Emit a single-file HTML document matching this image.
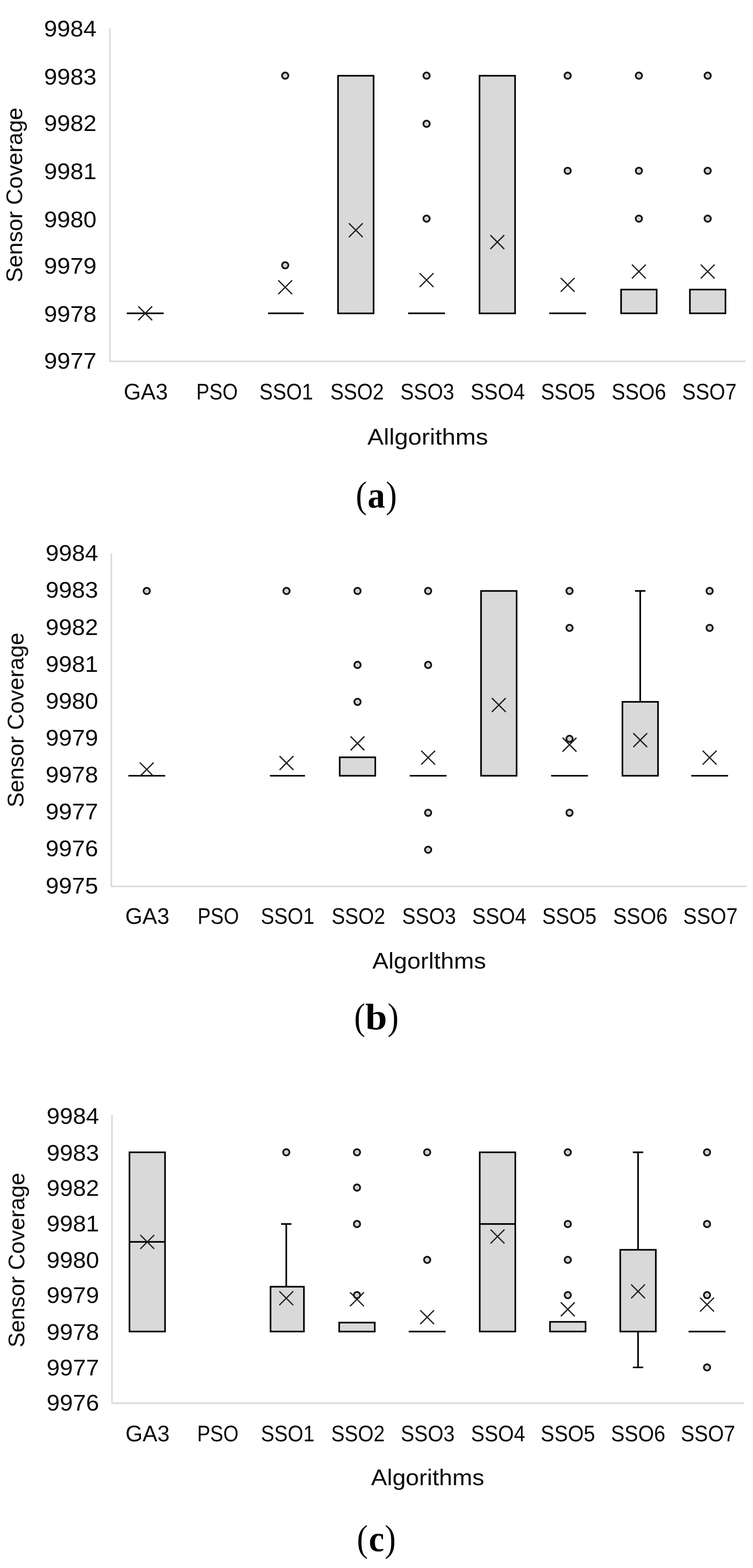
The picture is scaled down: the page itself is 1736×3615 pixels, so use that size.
<!DOCTYPE html>
<html lang="en">
<head>
<meta charset="utf-8">
<title>Sensor Coverage box plots</title>
<style>
html,body{margin:0;padding:0;background:#fff;}
body{width:1736px;height:3615px;overflow:hidden;}
svg{display:block;}
.tk{font-family:"Liberation Sans",sans-serif;font-size:52.3px;fill:#0a0a0a;}
.cap{font-family:"Liberation Serif","DejaVu Serif",serif;font-size:87px;fill:#000;}
.capl{font-weight:bold;font-size:85px;}
</style>
</head>
<body>
<svg width="1736" height="3615" viewBox="0 0 1736 3615">
<rect width="1736" height="3615" fill="#fff"/>
<g class="chart" id="chart-a"><g class="plot">
<path d="M253.2 65.5V833H1718.5" fill="none" stroke="#d9d9d9" stroke-width="3.4"/>
<text class="tk" x="101.5" y="83.5" textLength="121" lengthAdjust="spacingAndGlyphs">9984</text>
<text class="tk" x="101.5" y="194.5" textLength="121" lengthAdjust="spacingAndGlyphs">9983</text>
<text class="tk" x="101.5" y="301.5" textLength="121" lengthAdjust="spacingAndGlyphs">9982</text>
<text class="tk" x="101.5" y="412.5" textLength="121" lengthAdjust="spacingAndGlyphs">9981</text>
<text class="tk" x="101.5" y="523.5" textLength="121" lengthAdjust="spacingAndGlyphs">9980</text>
<text class="tk" x="101.5" y="631.0" textLength="121" lengthAdjust="spacingAndGlyphs">9979</text>
<text class="tk" x="101.5" y="742.0" textLength="121" lengthAdjust="spacingAndGlyphs">9978</text>
<text class="tk" x="101.5" y="849.5" textLength="121" lengthAdjust="spacingAndGlyphs">9977</text>
<text class="tk" x="285.2" y="920.5" textLength="101.8" lengthAdjust="spacingAndGlyphs">GA3</text>
<text class="tk" x="452.5" y="920.5" textLength="95.6" lengthAdjust="spacingAndGlyphs">PSO</text>
<text class="tk" x="598.1" y="920.5" textLength="123.7" lengthAdjust="spacingAndGlyphs">SSO1</text>
<text class="tk" x="761.4" y="920.5" textLength="123.7" lengthAdjust="spacingAndGlyphs">SSO2</text>
<text class="tk" x="923.1" y="920.5" textLength="124.1" lengthAdjust="spacingAndGlyphs">SSO3</text>
<text class="tk" x="1085.1" y="920.5" textLength="125.1" lengthAdjust="spacingAndGlyphs">SSO4</text>
<text class="tk" x="1247.0" y="920.5" textLength="125.2" lengthAdjust="spacingAndGlyphs">SSO5</text>
<text class="tk" x="1410.0" y="920.5" textLength="125.6" lengthAdjust="spacingAndGlyphs">SSO6</text>
<text class="tk" x="1572.5" y="920.5" textLength="125.6" lengthAdjust="spacingAndGlyphs">SSO7</text>
<text class="tk" x="847" y="1024.5" textLength="278" lengthAdjust="spacingAndGlyphs">Allgorithms</text>
<text class="tk" transform="translate(50.6 651) rotate(-90)" textLength="403" lengthAdjust="spacingAndGlyphs">Sensor Coverage</text>
<path d="M292.3 722.4H377.3" stroke="#000" stroke-width="3.7" fill="none"/>
<path d="M318.8 706.4L350.8 738.4M318.8 738.4L350.8 706.4" stroke="#1f1f1f" stroke-width="2.9" fill="none"/>
<path d="M618.1 722.4H700.1" stroke="#000" stroke-width="3.7" fill="none"/>
<circle cx="657.5" cy="611.6" r="7.3" fill="#d0d0d0" stroke="#141414" stroke-width="4"/>
<circle cx="657.5" cy="174.4" r="7.3" fill="#d0d0d0" stroke="#141414" stroke-width="4"/>
<path d="M641.5 646.2L673.5 678.2M641.5 678.2L673.5 646.2" stroke="#1f1f1f" stroke-width="2.9" fill="none"/>
<rect x="779.3" y="174.6" width="82" height="547.9" fill="#d9d9d9" stroke="#000" stroke-width="3.7"/>
<path d="M804.3 514.7L836.3 546.7M804.3 546.7L836.3 514.7" stroke="#1f1f1f" stroke-width="2.9" fill="none"/>
<path d="M940.9 722.4H1025.9" stroke="#000" stroke-width="3.7" fill="none"/>
<circle cx="983.4" cy="504.0" r="7.3" fill="#d0d0d0" stroke="#141414" stroke-width="4"/>
<circle cx="983.4" cy="285.4" r="7.3" fill="#d0d0d0" stroke="#141414" stroke-width="4"/>
<circle cx="983.4" cy="174.4" r="7.3" fill="#d0d0d0" stroke="#141414" stroke-width="4"/>
<path d="M967.4 629.7L999.4 661.7M967.4 661.7L999.4 629.7" stroke="#1f1f1f" stroke-width="2.9" fill="none"/>
<rect x="1105.5" y="174.6" width="82" height="547.9" fill="#d9d9d9" stroke="#000" stroke-width="3.7"/>
<path d="M1130.5 542.1L1162.5 574.1M1130.5 574.1L1162.5 542.1" stroke="#1f1f1f" stroke-width="2.9" fill="none"/>
<path d="M1266.2 722.4H1351.2" stroke="#000" stroke-width="3.7" fill="none"/>
<circle cx="1308.7" cy="393.7" r="7.3" fill="#d0d0d0" stroke="#141414" stroke-width="4"/>
<circle cx="1308.7" cy="174.4" r="7.3" fill="#d0d0d0" stroke="#141414" stroke-width="4"/>
<path d="M1292.7 640.7L1324.7 672.7M1292.7 672.7L1324.7 640.7" stroke="#1f1f1f" stroke-width="2.9" fill="none"/>
<rect x="1431.9" y="667.6" width="82" height="54.8" fill="#d9d9d9" stroke="#000" stroke-width="3.7"/>
<circle cx="1472.9" cy="504.0" r="7.3" fill="#d0d0d0" stroke="#141414" stroke-width="4"/>
<circle cx="1472.9" cy="393.7" r="7.3" fill="#d0d0d0" stroke="#141414" stroke-width="4"/>
<circle cx="1472.9" cy="174.4" r="7.3" fill="#d0d0d0" stroke="#141414" stroke-width="4"/>
<path d="M1456.9 610.0L1488.9 642.0M1456.9 642.0L1488.9 610.0" stroke="#1f1f1f" stroke-width="2.9" fill="none"/>
<rect x="1590.5" y="667.6" width="82" height="54.8" fill="#d9d9d9" stroke="#000" stroke-width="3.7"/>
<circle cx="1631.5" cy="504.0" r="7.3" fill="#d0d0d0" stroke="#141414" stroke-width="4"/>
<circle cx="1631.5" cy="393.7" r="7.3" fill="#d0d0d0" stroke="#141414" stroke-width="4"/>
<circle cx="1631.5" cy="174.4" r="7.3" fill="#d0d0d0" stroke="#141414" stroke-width="4"/>
<path d="M1615.5 610.0L1647.5 642.0M1615.5 642.0L1647.5 610.0" stroke="#1f1f1f" stroke-width="2.9" fill="none"/>
</g>
<text class="cap" y="1170"><tspan x="820.3" textLength="25.5" lengthAdjust="spacingAndGlyphs">(</tspan><tspan class="capl" x="847.5999999999999" textLength="40.3" lengthAdjust="spacingAndGlyphs">a</tspan><tspan x="889.5999999999999" textLength="25.5" lengthAdjust="spacingAndGlyphs">)</tspan></text>
</g>
<g class="chart" id="chart-b"><g class="plot">
<path d="M256.8 1276V2043.5H1721" fill="none" stroke="#d9d9d9" stroke-width="3.4"/>
<text class="tk" x="105.3" y="1293.2" textLength="121" lengthAdjust="spacingAndGlyphs">9984</text>
<text class="tk" x="105.3" y="1378.3" textLength="121" lengthAdjust="spacingAndGlyphs">9983</text>
<text class="tk" x="105.3" y="1463.6" textLength="121" lengthAdjust="spacingAndGlyphs">9982</text>
<text class="tk" x="105.3" y="1548.5" textLength="121" lengthAdjust="spacingAndGlyphs">9981</text>
<text class="tk" x="105.3" y="1633.8" textLength="121" lengthAdjust="spacingAndGlyphs">9980</text>
<text class="tk" x="105.3" y="1718.8" textLength="121" lengthAdjust="spacingAndGlyphs">9979</text>
<text class="tk" x="105.3" y="1803.9" textLength="121" lengthAdjust="spacingAndGlyphs">9978</text>
<text class="tk" x="105.3" y="1889.3" textLength="121" lengthAdjust="spacingAndGlyphs">9977</text>
<text class="tk" x="105.3" y="1974.4" textLength="121" lengthAdjust="spacingAndGlyphs">9976</text>
<text class="tk" x="105.3" y="2059.5" textLength="121" lengthAdjust="spacingAndGlyphs">9975</text>
<text class="tk" x="288.7" y="2130" textLength="101.8" lengthAdjust="spacingAndGlyphs">GA3</text>
<text class="tk" x="455.4" y="2130" textLength="95.6" lengthAdjust="spacingAndGlyphs">PSO</text>
<text class="tk" x="601.2" y="2130" textLength="123.7" lengthAdjust="spacingAndGlyphs">SSO1</text>
<text class="tk" x="764.4" y="2130" textLength="123.7" lengthAdjust="spacingAndGlyphs">SSO2</text>
<text class="tk" x="927.1" y="2130" textLength="124.1" lengthAdjust="spacingAndGlyphs">SSO3</text>
<text class="tk" x="1088.4" y="2130" textLength="125.1" lengthAdjust="spacingAndGlyphs">SSO4</text>
<text class="tk" x="1249.9" y="2130" textLength="125.2" lengthAdjust="spacingAndGlyphs">SSO5</text>
<text class="tk" x="1413.4" y="2130" textLength="125.6" lengthAdjust="spacingAndGlyphs">SSO6</text>
<text class="tk" x="1575.0" y="2130" textLength="125.6" lengthAdjust="spacingAndGlyphs">SSO7</text>
<text class="tk" x="858.5" y="2233" textLength="262.0" lengthAdjust="spacingAndGlyphs">Algorlthms</text>
<text class="tk" transform="translate(54.2 1861.4) rotate(-90)" textLength="403" lengthAdjust="spacingAndGlyphs">Sensor Coverage</text>
<path d="M295.8 1788.5H380.8" stroke="#000" stroke-width="3.7" fill="none"/>
<circle cx="338.3" cy="1362.4" r="7.3" fill="#d0d0d0" stroke="#141414" stroke-width="4"/>
<path d="M322.3 1758.0L354.3 1790.0M322.3 1790.0L354.3 1758.0" stroke="#1f1f1f" stroke-width="2.9" fill="none"/>
<path d="M622.2 1788.5H703.2" stroke="#000" stroke-width="3.7" fill="none"/>
<circle cx="660.5" cy="1362.4" r="7.3" fill="#d0d0d0" stroke="#141414" stroke-width="4"/>
<path d="M644.5 1743.1L676.5 1775.1M644.5 1775.1L676.5 1743.1" stroke="#1f1f1f" stroke-width="2.9" fill="none"/>
<rect x="783.2" y="1745.9" width="82" height="42.6" fill="#d9d9d9" stroke="#000" stroke-width="3.7"/>
<circle cx="824.2" cy="1618.1" r="7.3" fill="#d0d0d0" stroke="#141414" stroke-width="4"/>
<circle cx="824.2" cy="1532.9" r="7.3" fill="#d0d0d0" stroke="#141414" stroke-width="4"/>
<circle cx="824.2" cy="1362.4" r="7.3" fill="#d0d0d0" stroke="#141414" stroke-width="4"/>
<path d="M808.2 1697.9L840.2 1729.9M808.2 1729.9L840.2 1697.9" stroke="#1f1f1f" stroke-width="2.9" fill="none"/>
<path d="M944.5 1788.5H1029.5" stroke="#000" stroke-width="3.7" fill="none"/>
<circle cx="987" cy="1959.0" r="7.3" fill="#d0d0d0" stroke="#141414" stroke-width="4"/>
<circle cx="987" cy="1873.8" r="7.3" fill="#d0d0d0" stroke="#141414" stroke-width="4"/>
<circle cx="987" cy="1532.9" r="7.3" fill="#d0d0d0" stroke="#141414" stroke-width="4"/>
<circle cx="987" cy="1362.4" r="7.3" fill="#d0d0d0" stroke="#141414" stroke-width="4"/>
<path d="M971 1730.8L1003 1762.8M971 1762.8L1003 1730.8" stroke="#1f1f1f" stroke-width="2.9" fill="none"/>
<rect x="1109.0" y="1362.4" width="82" height="426.1" fill="#d9d9d9" stroke="#000" stroke-width="3.7"/>
<path d="M1134 1609.4L1166 1641.4M1134 1641.4L1166 1609.4" stroke="#1f1f1f" stroke-width="2.9" fill="none"/>
<path d="M1270.5 1788.5H1355.5" stroke="#000" stroke-width="3.7" fill="none"/>
<circle cx="1313" cy="1873.8" r="7.3" fill="#d0d0d0" stroke="#141414" stroke-width="4"/>
<circle cx="1313" cy="1703.3" r="7.3" fill="#d0d0d0" stroke="#141414" stroke-width="4"/>
<circle cx="1313" cy="1447.6" r="7.3" fill="#d0d0d0" stroke="#141414" stroke-width="4"/>
<circle cx="1313" cy="1362.4" r="7.3" fill="#d0d0d0" stroke="#141414" stroke-width="4"/>
<path d="M1297 1700.9L1329 1732.9M1297 1732.9L1329 1700.9" stroke="#1f1f1f" stroke-width="2.9" fill="none"/>
<path d="M1476 1618.1V1362.4M1464 1362.4H1488" stroke="#000" stroke-width="3.7" fill="none"/>
<rect x="1435.0" y="1618.1" width="82" height="170.4" fill="#d9d9d9" stroke="#000" stroke-width="3.7"/>
<path d="M1460 1690.4L1492 1722.4M1460 1722.4L1492 1690.4" stroke="#1f1f1f" stroke-width="2.9" fill="none"/>
<path d="M1593.5 1788.5H1678.5" stroke="#000" stroke-width="3.7" fill="none"/>
<circle cx="1636" cy="1447.6" r="7.3" fill="#d0d0d0" stroke="#141414" stroke-width="4"/>
<circle cx="1636" cy="1362.4" r="7.3" fill="#d0d0d0" stroke="#141414" stroke-width="4"/>
<path d="M1620 1730.8L1652 1762.8M1620 1762.8L1652 1730.8" stroke="#1f1f1f" stroke-width="2.9" fill="none"/>
</g>
<text class="cap" y="2373"><tspan x="816.4" textLength="25.5" lengthAdjust="spacingAndGlyphs">(</tspan><tspan class="capl" x="842.3" textLength="50.2" lengthAdjust="spacingAndGlyphs">b</tspan><tspan x="893.4" textLength="25.5" lengthAdjust="spacingAndGlyphs">)</tspan></text>
</g>
<g class="chart" id="chart-c"><g class="plot">
<path d="M258.1 2570V3235H1716" fill="none" stroke="#d9d9d9" stroke-width="3.4"/>
<text class="tk" x="107.4" y="2591.3" textLength="121" lengthAdjust="spacingAndGlyphs">9984</text>
<text class="tk" x="107.4" y="2676.2" textLength="121" lengthAdjust="spacingAndGlyphs">9983</text>
<text class="tk" x="107.4" y="2757.4" textLength="121" lengthAdjust="spacingAndGlyphs">9982</text>
<text class="tk" x="107.4" y="2838.6" textLength="121" lengthAdjust="spacingAndGlyphs">9981</text>
<text class="tk" x="107.4" y="2923.2" textLength="121" lengthAdjust="spacingAndGlyphs">9980</text>
<text class="tk" x="107.4" y="3004.2" textLength="121" lengthAdjust="spacingAndGlyphs">9979</text>
<text class="tk" x="107.4" y="3089.3" textLength="121" lengthAdjust="spacingAndGlyphs">9978</text>
<text class="tk" x="107.4" y="3170.5" textLength="121" lengthAdjust="spacingAndGlyphs">9977</text>
<text class="tk" x="107.4" y="3251.8" textLength="121" lengthAdjust="spacingAndGlyphs">9976</text>
<text class="tk" x="289.3" y="3322.5" textLength="101.8" lengthAdjust="spacingAndGlyphs">GA3</text>
<text class="tk" x="454.4" y="3322.5" textLength="95.6" lengthAdjust="spacingAndGlyphs">PSO</text>
<text class="tk" x="601.4" y="3322.5" textLength="123.7" lengthAdjust="spacingAndGlyphs">SSO1</text>
<text class="tk" x="763.4" y="3322.5" textLength="123.7" lengthAdjust="spacingAndGlyphs">SSO2</text>
<text class="tk" x="924.1" y="3322.5" textLength="124.1" lengthAdjust="spacingAndGlyphs">SSO3</text>
<text class="tk" x="1085.7" y="3322.5" textLength="125.1" lengthAdjust="spacingAndGlyphs">SSO4</text>
<text class="tk" x="1246.6" y="3322.5" textLength="125.2" lengthAdjust="spacingAndGlyphs">SSO5</text>
<text class="tk" x="1408.4" y="3322.5" textLength="125.6" lengthAdjust="spacingAndGlyphs">SSO6</text>
<text class="tk" x="1569.4" y="3322.5" textLength="125.6" lengthAdjust="spacingAndGlyphs">SSO7</text>
<text class="tk" x="855.5" y="3424" textLength="261.0" lengthAdjust="spacingAndGlyphs">Algorithms</text>
<text class="tk" transform="translate(56.3 3106.6) rotate(-90)" textLength="403" lengthAdjust="spacingAndGlyphs">Sensor Coverage</text>
<rect x="298.5" y="2656.6" width="82" height="413.2" fill="#d9d9d9" stroke="#000" stroke-width="3.7"/>
<path d="M298.5 2863.2H380.5" stroke="#000" stroke-width="3.7" fill="none"/>
<path d="M323.5 2847.2L355.5 2879.2M323.5 2879.2L355.5 2847.2" stroke="#1f1f1f" stroke-width="2.9" fill="none"/>
<path d="M660 2966.5V2821.9M648 2821.9H672" stroke="#000" stroke-width="3.7" fill="none"/>
<rect x="623.7" y="2966.5" width="77" height="103.3" fill="#d9d9d9" stroke="#000" stroke-width="3.7"/>
<circle cx="660" cy="2656.6" r="7.3" fill="#d0d0d0" stroke="#141414" stroke-width="4"/>
<path d="M644 2977.0L676 3009.0M644 3009.0L676 2977.0" stroke="#1f1f1f" stroke-width="2.9" fill="none"/>
<rect x="782.0" y="3049.2" width="82" height="20.7" fill="#d9d9d9" stroke="#000" stroke-width="3.7"/>
<circle cx="823" cy="2985.8" r="7.3" fill="#d0d0d0" stroke="#141414" stroke-width="4"/>
<circle cx="823" cy="2821.9" r="7.3" fill="#d0d0d0" stroke="#141414" stroke-width="4"/>
<circle cx="823" cy="2737.9" r="7.3" fill="#d0d0d0" stroke="#141414" stroke-width="4"/>
<circle cx="823" cy="2656.6" r="7.3" fill="#d0d0d0" stroke="#141414" stroke-width="4"/>
<path d="M807 2979.5L839 3011.5M807 3011.5L839 2979.5" stroke="#1f1f1f" stroke-width="2.9" fill="none"/>
<path d="M942.3 3069.8H1027.3" stroke="#000" stroke-width="3.7" fill="none"/>
<circle cx="984.8" cy="2904.6" r="7.3" fill="#d0d0d0" stroke="#141414" stroke-width="4"/>
<circle cx="984.8" cy="2656.6" r="7.3" fill="#d0d0d0" stroke="#141414" stroke-width="4"/>
<path d="M968.8 3020.8L1000.8 3052.8M968.8 3052.8L1000.8 3020.8" stroke="#1f1f1f" stroke-width="2.9" fill="none"/>
<rect x="1106.0" y="2656.6" width="82" height="413.2" fill="#d9d9d9" stroke="#000" stroke-width="3.7"/>
<path d="M1106.0 2821.9H1188.0" stroke="#000" stroke-width="3.7" fill="none"/>
<path d="M1131 2834.8L1163 2866.8M1131 2866.8L1163 2834.8" stroke="#1f1f1f" stroke-width="2.9" fill="none"/>
<rect x="1268.0" y="3047.5" width="82" height="22.3" fill="#d9d9d9" stroke="#000" stroke-width="3.7"/>
<circle cx="1309" cy="2985.8" r="7.3" fill="#d0d0d0" stroke="#141414" stroke-width="4"/>
<circle cx="1309" cy="2904.6" r="7.3" fill="#d0d0d0" stroke="#141414" stroke-width="4"/>
<circle cx="1309" cy="2821.9" r="7.3" fill="#d0d0d0" stroke="#141414" stroke-width="4"/>
<circle cx="1309" cy="2656.6" r="7.3" fill="#d0d0d0" stroke="#141414" stroke-width="4"/>
<path d="M1293 3002.6L1325 3034.6M1293 3034.6L1325 3002.6" stroke="#1f1f1f" stroke-width="2.9" fill="none"/>
<path d="M1471 2881.4V2656.6M1459 2656.6H1483" stroke="#000" stroke-width="3.7" fill="none"/>
<path d="M1471 3069.8V3152.5M1459 3152.5H1483" stroke="#000" stroke-width="3.7" fill="none"/>
<rect x="1430.0" y="2881.4" width="82" height="188.4" fill="#d9d9d9" stroke="#000" stroke-width="3.7"/>
<path d="M1455 2961.3L1487 2993.3M1455 2993.3L1487 2961.3" stroke="#1f1f1f" stroke-width="2.9" fill="none"/>
<path d="M1587.5 3069.8H1672.5" stroke="#000" stroke-width="3.7" fill="none"/>
<circle cx="1630" cy="3152.5" r="7.3" fill="#d0d0d0" stroke="#141414" stroke-width="4"/>
<circle cx="1630" cy="2985.8" r="7.3" fill="#d0d0d0" stroke="#141414" stroke-width="4"/>
<circle cx="1630" cy="2821.9" r="7.3" fill="#d0d0d0" stroke="#141414" stroke-width="4"/>
<circle cx="1630" cy="2656.6" r="7.3" fill="#d0d0d0" stroke="#141414" stroke-width="4"/>
<path d="M1614 2991.8L1646 3023.8M1614 3023.8L1646 2991.8" stroke="#1f1f1f" stroke-width="2.9" fill="none"/>
</g>
<text class="cap" y="3575.7"><tspan x="822.8" textLength="25.5" lengthAdjust="spacingAndGlyphs">(</tspan><tspan class="capl" x="850.3" textLength="35.6" lengthAdjust="spacingAndGlyphs">c</tspan><tspan x="887.0999999999999" textLength="25.5" lengthAdjust="spacingAndGlyphs">)</tspan></text>
</g>
</svg>
</body>
</html>
